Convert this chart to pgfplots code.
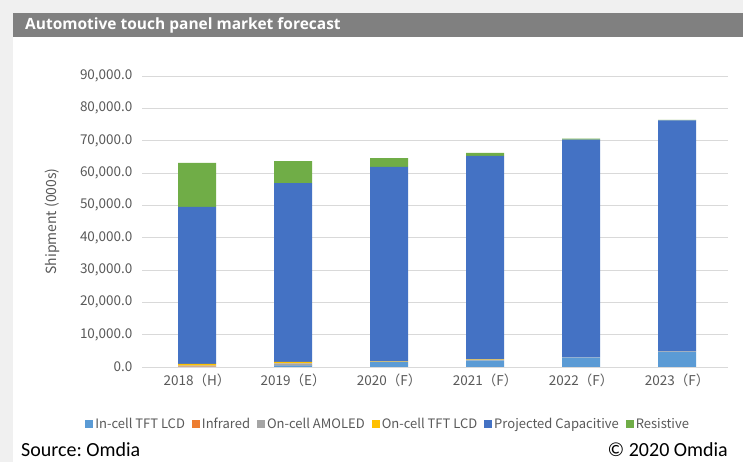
\documentclass[border=0pt]{standalone}
\usepackage{pgfplots}
\pgfplotsset{compat=1.18}
\usepackage{fontspec}
\setmainfont{Carlito}
\newfontfamily\cjk{Noto Sans CJK SC}
\newfontfamily\titlefont{Open Sans}
\definecolor{cIn}{HTML}{5B9BD5}
\definecolor{cIr}{HTML}{ED7D31}
\definecolor{cAm}{HTML}{A5A5A5}
\definecolor{cOt}{HTML}{FFC000}
\definecolor{cPc}{HTML}{4472C4}
\definecolor{cRe}{HTML}{70AD47}
\definecolor{txt}{HTML}{595959}
\definecolor{grd}{HTML}{D9D9D9}
\frenchspacing
\begin{document}
\begin{tikzpicture}[x=1pt,y=1pt]
\fill[white!94!black] (0,0) rectangle (743,462);
\fill[white] (13,0) rectangle (743,449);
\fill[black!50] (13,425) rectangle (743,449);
\node[anchor=base west,inner sep=0pt,text=white,font=\titlefont\bfseries\fontsize{15.5}{15.5}\selectfont] at (25,432) {Automotive touch panel market forecast};
\node[anchor=base west,inner sep=0pt,font=\fontsize{20}{20}\selectfont] at (21,5) {Source: Omdia};
\node[anchor=base east,inner sep=0pt,font=\fontsize{20}{20}\selectfont] at (728,5) {\textcopyright\ 2020 Omdia};
\begin{axis}[
  at={(142pt,95pt)}, anchor=south west,
  scale only axis, width=586pt, height=291pt,
  ybar stacked, bar width=38pt,
  xmin=-0.573, xmax=5.53, ymin=0, ymax=90000,
  xtick={0,1,2,3,4,5},
  xticklabels={2018（H）,2019（E）,2020（F）,2021（F）,2022（F）,2023（F）},
  ytick={0,10000,...,90000},
  /pgf/number format/fixed, /pgf/number format/fixed zerofill, /pgf/number format/precision=1,
  /pgf/number format/1000 sep={,}, /pgf/number format/assume math mode=true,
  scaled y ticks=false,
  ymajorgrids, grid style={grd, line width=0.8pt},
  axis line style={draw=none},
  major tick length=0pt,
  tick label style={text=txt, font=\cjk\fontsize{13.5}{13.5}\selectfont},
  xticklabel style={yshift=-3pt},
  yticklabel style={xshift=-6pt},
  ylabel={Shipment (000s)}, ylabel style={text=txt, font=\cjk\fontsize{14}{14}\selectfont, at={(axis description cs:-0.1536,0.5)}, anchor=center},
  legend style={at={(0.42,-0.196)}, anchor=center, draw=none, fill=none, legend columns=-1,
    font=\cjk\fontsize{13}{13}\selectfont, text=txt,
    /tikz/every odd column/.append style={column sep=0pt}},
  legend image code/.code={\fill[#1] (0pt,-4pt) rectangle (8pt,4pt);},
]
\addplot[fill=cIn,draw=none] coordinates {(0,0) (1,500) (2,1600) (3,2000) (4,2900) (5,4700)};
\addplot[fill=cIr,draw=none] coordinates {(0,100) (1,100) (2,0) (3,0) (4,0) (5,0)};
\addplot[fill=cAm,draw=none] coordinates {(0,300) (1,500) (2,100) (3,300) (4,100) (5,100)};
\addplot[fill=cOt,draw=none] coordinates {(0,600) (1,500) (2,100) (3,100) (4,0) (5,0)};
\addplot[fill=cPc,draw=none] coordinates {(0,48500) (1,55300) (2,60100) (3,62900) (4,67300) (5,71500)};
\addplot[fill=cRe,draw=none] coordinates {(0,13600) (1,6800) (2,2700) (3,900) (4,300) (5,100)};
\legend{In-cell TFT LCD\rule{5pt}{0pt},Infrared\rule{5pt}{0pt},On-cell AMOLED\rule{5pt}{0pt},On-cell TFT LCD\rule{5pt}{0pt},Projected Capacitive\rule{5pt}{0pt},Resistive}
\end{axis}
\end{tikzpicture}
\end{document}
